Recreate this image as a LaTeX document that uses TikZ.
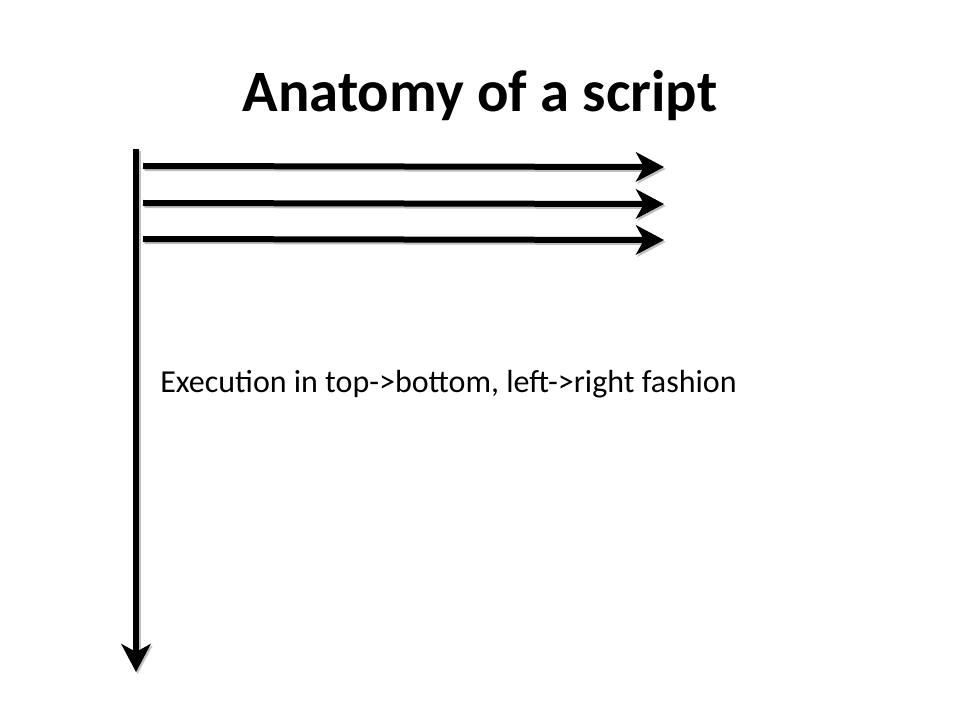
\documentclass[tikz,border=0pt]{standalone}
\usepackage{fontspec}
\setmainfont{Carlito}
\usetikzlibrary{arrows.meta}
\begin{document}
\begin{tikzpicture}[x=0.75pt,y=-0.75pt,
  flowarrow/.style={line width=4.5pt,-{Stealth[length=21pt,width=22pt,inset=6pt]}},
  shadowarrow/.style={flowarrow,draw=black!25},
  titletext/.style={font=\fontsize{44}{52}\selectfont\bfseries,anchor=base},
  bodytext/.style={font=\fontsize{24}{28}\selectfont,anchor=base west,inner sep=0pt}]
\useasboundingbox[fill=white] (0,0) rectangle (960,720);
\node[titletext] (title) at (480,112) {Anatomy of a script};
% coordinates
\coordinate (vtop) at (136,149);
\coordinate (vend) at (136,672);
\coordinate (a1s) at (143,166);
\coordinate (a1e) at (664,167);
\coordinate (a2s) at (143,203);
\coordinate (a2e) at (664,204);
\coordinate (a3s) at (143,239);
\coordinate (a3e) at (664,240);
% shadows
\foreach \s/\e in {a1s/a1e,a2s/a2e,a3s/a3e,vtop/vend}
  \draw[shadowarrow,transform canvas={xshift=1.2pt,yshift=-1.5pt}] (\s) -- (\e);
% arrows
\draw[flowarrow] (vtop) -- (vend);
\draw[flowarrow] (a1s) -- (a1e);
\draw[flowarrow] (a2s) -- (a2e);
\draw[flowarrow] (a3s) -- (a3e);
\node[bodytext] (label) at (160,392) {Execution in top->bottom, left->right fashion};
\end{tikzpicture}
\end{document}
